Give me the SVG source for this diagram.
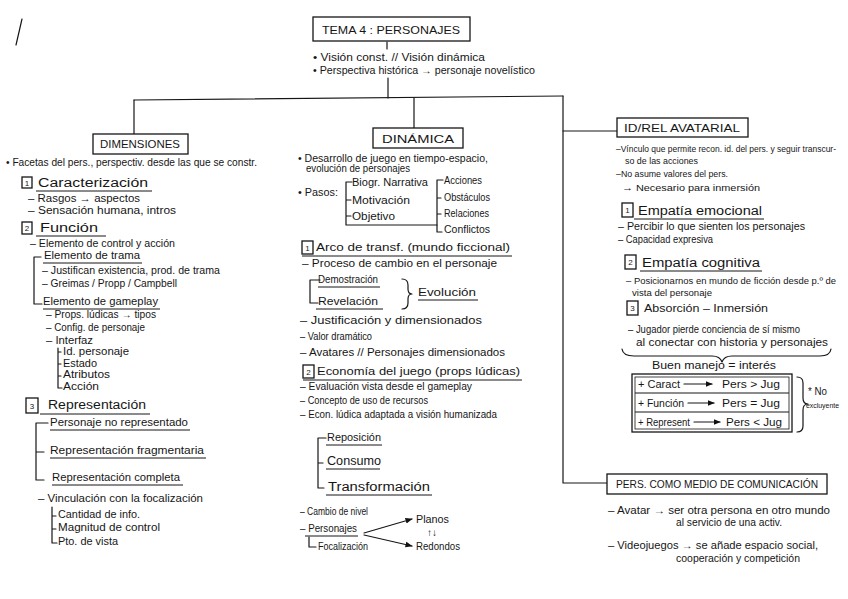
<svg xmlns="http://www.w3.org/2000/svg" width="848" height="599" viewBox="0 0 848 599">
<defs>
<marker id="ah" viewBox="0 0 10 10" refX="9" refY="5" markerWidth="6" markerHeight="6" orient="auto-start-reverse"><path d="M0,1 L10,5 L0,9 z" fill="#111"/></marker>
<style>
text{font-family:"Liberation Sans",Arial,sans-serif;fill:#161616}
.t{font-size:10px}
.s{font-size:9.5px}
.m{font-size:11px}
.h{font-size:12px}
.n{font-size:8px;text-anchor:middle}
.c{text-anchor:middle}
.ln{fill:none;stroke:#161616;stroke-width:1.2;stroke-linecap:round;stroke-linejoin:round}
.ul{fill:none;stroke:#161616;stroke-width:1}
.box{fill:#fff;stroke:#161616;stroke-width:1.3}
</style>
</defs>
<rect width="848" height="599" fill="#fff"/>
<line class="ln" x1="22" y1="19" x2="16" y2="45"/>

<g id="connectors">
<path class="ln" d="M387 42 V49"/>
<path class="ln" d="M388 78 V98"/>
<path class="ln" d="M134 100 L563 96"/>
<path class="ln" d="M134 100 V134"/>
<path class="ln" d="M414 98 V128"/>
<path class="ln" d="M563 96 V483 H607"/>
<path class="ln" d="M563 131 H617"/>
</g>

<g id="tema">
<rect class="box" x="313" y="17" width="157" height="24"/>
<text class="c" x="391" y="34" font-size="11.5" textLength="138" lengthAdjust="spacingAndGlyphs">TEMA 4 : PERSONAJES</text>
<text class="t" x="313" y="61" textLength="172" lengthAdjust="spacingAndGlyphs">• Visión const. // Visión dinámica</text>
<text class="t" x="313" y="74" textLength="222" lengthAdjust="spacingAndGlyphs">• Perspectiva histórica → personaje novelístico</text>
</g>

<g id="dimensiones">
<rect class="box" x="93" y="134" width="95" height="20"/>
<text class="c" x="140" y="148" font-size="11" textLength="80" lengthAdjust="spacingAndGlyphs">DIMENSIONES</text>
<text class="t" x="6" y="166" textLength="251" lengthAdjust="spacingAndGlyphs">• Facetas del pers., perspectiv. desde las que se constr.</text>
<rect class="box" x="22" y="177" width="10" height="11"/>
<text class="n" x="27" y="186">1</text>
<text class="h" x="38" y="187" textLength="110" lengthAdjust="spacingAndGlyphs">Caracterización</text>
<line class="ul" x1="36" y1="191" x2="152" y2="191"/>
<text class="m" x="28" y="202" textLength="112" lengthAdjust="spacingAndGlyphs">– Rasgos → aspectos</text>
<text class="t" x="28" y="214" textLength="148" lengthAdjust="spacingAndGlyphs">– Sensación humana, intros</text>
<rect class="box" x="22" y="222" width="10" height="12"/>
<text class="n" x="27" y="231">2</text>
<text class="h" x="40" y="232" textLength="58" lengthAdjust="spacingAndGlyphs">Función</text>
<line class="ul" x1="36" y1="236" x2="106" y2="236"/>
<text class="t" x="30" y="247" textLength="145" lengthAdjust="spacingAndGlyphs">– Elemento de control y acción</text>
<path class="ln" d="M41 257 H34 V304 H42"/>
<text class="m" x="44" y="259" textLength="96" lengthAdjust="spacingAndGlyphs">Elemento de trama</text>
<line class="ul" x1="43" y1="263" x2="142" y2="263"/>
<text class="t" x="42" y="274" textLength="178" lengthAdjust="spacingAndGlyphs">– Justifican existencia, prod. de trama</text>
<text class="t" x="42" y="287" textLength="135" lengthAdjust="spacingAndGlyphs">– Greimas / Propp / Campbell</text>
<text class="m" x="43" y="305" textLength="115" lengthAdjust="spacingAndGlyphs">Elemento de gameplay</text>
<line class="ul" x1="43" y1="309" x2="160" y2="309"/>
<text class="t" x="46" y="318" textLength="110" lengthAdjust="spacingAndGlyphs">– Props. lúdicas → tipos</text>
<text class="t" x="46" y="331" textLength="99" lengthAdjust="spacingAndGlyphs">– Config. de personaje</text>
<text class="t" x="46" y="344" textLength="47" lengthAdjust="spacingAndGlyphs">– Interfaz</text>
<path class="ln" d="M58 348 V388 H62 M58 352 H61 M58 364 H61 M58 376 H61"/>
<text class="m" x="63" y="355" textLength="66" lengthAdjust="spacingAndGlyphs">Id. personaje</text>
<text class="t" x="63" y="367" textLength="34" lengthAdjust="spacingAndGlyphs">Estado</text>
<text class="t" x="63" y="378" textLength="47" lengthAdjust="spacingAndGlyphs">Atributos</text>
<text class="t" x="63" y="390" textLength="36" lengthAdjust="spacingAndGlyphs">Acción</text>
<rect class="box" x="26" y="398" width="12" height="15"/>
<text class="n" x="32" y="409" font-size="9">3</text>
<text class="h" x="48" y="409" textLength="98" lengthAdjust="spacingAndGlyphs">Representación</text>
<line class="ul" x1="40" y1="414" x2="150" y2="414"/>
<path class="ln" d="M48 423 H36 V480 H44 M36 452 H44"/>
<text class="m" x="50" y="426" textLength="138" lengthAdjust="spacingAndGlyphs">Personaje no representado</text>
<line class="ul" x1="50" y1="430" x2="190" y2="430"/>
<text class="m" x="50" y="454" textLength="154" lengthAdjust="spacingAndGlyphs">Representación fragmentaria</text>
<line class="ul" x1="50" y1="458" x2="206" y2="458"/>
<text class="m" x="52" y="481" textLength="128" lengthAdjust="spacingAndGlyphs">Representación completa</text>
<line class="ul" x1="52" y1="485" x2="183" y2="485"/>
<text class="t" x="38" y="502" textLength="165" lengthAdjust="spacingAndGlyphs">– Vinculación con la focalización</text>
<path class="ln" d="M52 507 V543 H57 M52 516 H56 M52 529 H56"/>
<text class="t" x="58" y="518" textLength="82" lengthAdjust="spacingAndGlyphs">Cantidad de info.</text>
<text class="t" x="58" y="531" textLength="102" lengthAdjust="spacingAndGlyphs">Magnitud de control</text>
<text class="t" x="58" y="545" textLength="60" lengthAdjust="spacingAndGlyphs">Pto. de vista</text>
</g>

<g id="dinamica">
<rect class="box" x="373" y="128" width="90" height="20"/>
<text class="c" x="418" y="143" font-size="11" textLength="72" lengthAdjust="spacingAndGlyphs">DINÁMICA</text>
<text class="t" x="298" y="162" textLength="190" lengthAdjust="spacingAndGlyphs">• Desarrollo de juego en tiempo-espacio,</text>
<text class="t" x="306" y="172" textLength="104" lengthAdjust="spacingAndGlyphs">evolución de personajes</text>
<text class="t" x="298" y="196" textLength="40" lengthAdjust="spacingAndGlyphs">• Pasos:</text>
<path class="ln" d="M352 182 H346 V225 H437 M346 200 H351 M346 216 H351"/>
<text class="t" x="352" y="186" textLength="76" lengthAdjust="spacingAndGlyphs">Biogr. Narrativa</text>
<text class="t" x="352" y="204" textLength="58" lengthAdjust="spacingAndGlyphs">Motivación</text>
<text class="t" x="352" y="220" textLength="43" lengthAdjust="spacingAndGlyphs">Objetivo</text>
<path class="ln" d="M443 180 H437 V232 H442 M437 198 H441 M437 214 H441"/>
<text class="t" x="444" y="184" textLength="38" lengthAdjust="spacingAndGlyphs">Acciones</text>
<text class="t" x="444" y="201" textLength="46" lengthAdjust="spacingAndGlyphs">Obstáculos</text>
<text class="t" x="444" y="217" textLength="45" lengthAdjust="spacingAndGlyphs">Relaciones</text>
<text class="t" x="444" y="233" textLength="46" lengthAdjust="spacingAndGlyphs">Conflictos</text>
<rect class="box" x="302" y="241" width="11" height="13"/>
<text class="n" x="307.5" y="251">1</text>
<text class="m" x="316" y="251" textLength="194" lengthAdjust="spacingAndGlyphs">Arco de transf. (mundo ficcional)</text>
<line class="ul" x1="302" y1="256" x2="512" y2="256"/>
<text class="t" x="302" y="267" textLength="195" lengthAdjust="spacingAndGlyphs">– Proceso de cambio en el personaje</text>
<path class="ln" d="M320 280 H310 V303 H318"/>
<text class="t" x="318" y="283" textLength="60" lengthAdjust="spacingAndGlyphs">Demostración</text>
<line class="ul" x1="318" y1="287" x2="380" y2="287"/>
<text class="t" x="318" y="305" textLength="60" lengthAdjust="spacingAndGlyphs">Revelación</text>
<line class="ul" x1="316" y1="309" x2="383" y2="309"/>
<path class="ln" d="M402 279 Q408 279 408 285 V289 Q408 294 412 294 Q408 294 408 299 V303 Q408 309 402 309"/>
<text class="m" x="418" y="296" textLength="58" lengthAdjust="spacingAndGlyphs">Evolución</text>
<line class="ul" x1="418" y1="300" x2="478" y2="300"/>
<text class="t" x="300" y="324" textLength="182" lengthAdjust="spacingAndGlyphs">– Justificación y dimensionados</text>
<text class="t" x="300" y="340" textLength="72" lengthAdjust="spacingAndGlyphs">– Valor dramático</text>
<text class="t" x="300" y="356" textLength="205" lengthAdjust="spacingAndGlyphs">– Avatares // Personajes dimensionados</text>
<rect class="box" x="303" y="365" width="11" height="13"/>
<text class="n" x="308.5" y="375">2</text>
<text class="m" x="317" y="375" textLength="203" lengthAdjust="spacingAndGlyphs">Economía del juego (props lúdicas)</text>
<line class="ul" x1="303" y1="380" x2="522" y2="380"/>
<text class="t" x="300" y="390" textLength="172" lengthAdjust="spacingAndGlyphs">– Evaluación vista desde el gameplay</text>
<text class="t" x="300" y="404" textLength="128" lengthAdjust="spacingAndGlyphs">– Concepto de uso de recursos</text>
<text class="t" x="300" y="418" textLength="197" lengthAdjust="spacingAndGlyphs">– Econ. lúdica adaptada a visión humanizada</text>
<path class="ln" d="M326 438 H318 V488 H324 M318 463 H323"/>
<text class="m" x="327" y="441" textLength="54" lengthAdjust="spacingAndGlyphs">Reposición</text>
<line class="ul" x1="326" y1="445" x2="382" y2="445"/>
<text class="h" x="327" y="465" textLength="54" lengthAdjust="spacingAndGlyphs">Consumo</text>
<line class="ul" x1="326" y1="469" x2="380" y2="469"/>
<text class="h" x="328" y="491" textLength="102" lengthAdjust="spacingAndGlyphs">Transformación</text>
<line class="ul" x1="326" y1="495" x2="432" y2="495"/>
<text class="t" x="300" y="515" textLength="68" lengthAdjust="spacingAndGlyphs">– Cambio de nivel</text>
<text class="m" x="300" y="532" textLength="57" lengthAdjust="spacingAndGlyphs">– Personajes</text>
<line class="ul" x1="305" y1="536" x2="358" y2="536"/>
<path class="ln" d="M309 537 V547 H316"/>
<text class="t" x="318" y="550" textLength="50" lengthAdjust="spacingAndGlyphs">Focalización</text>
<path class="ln" d="M364 533 L412 519" marker-end="url(#ah)"/>
<path class="ln" d="M364 535 L412 546" marker-end="url(#ah)"/>
<text class="m" x="416" y="523" textLength="33" lengthAdjust="spacingAndGlyphs">Planos</text>
<text class="t" x="427" y="536">↑↓</text>
<text class="m" x="416" y="550" textLength="44" lengthAdjust="spacingAndGlyphs">Redondos</text>
</g>

<g id="id-rel-avatarial">
<rect class="box" x="617" y="118" width="131" height="19"/>
<text class="c" x="682" y="132" font-size="11" textLength="116" lengthAdjust="spacingAndGlyphs">ID/REL AVATARIAL</text>
<text x="616" y="152" font-size="8.2" textLength="220" lengthAdjust="spacingAndGlyphs">–Vínculo que permite recon. id. del pers. y seguir transcur-</text>
<text class="s" x="625" y="164" textLength="73" lengthAdjust="spacingAndGlyphs">so de las acciones</text>
<text class="s" x="616" y="177" textLength="112" lengthAdjust="spacingAndGlyphs">–No asume valores del pers.</text>
<text class="s" x="622" y="191" textLength="138" lengthAdjust="spacingAndGlyphs">→ Necesario para inmersión</text>
<rect class="box" x="622" y="203" width="11" height="14"/>
<text class="n" x="627.5" y="213">1</text>
<text class="h" x="638" y="215" textLength="124" lengthAdjust="spacingAndGlyphs">Empatía emocional</text>
<line class="ul" x1="634" y1="219" x2="764" y2="219"/>
<text class="t" x="618" y="230" textLength="187" lengthAdjust="spacingAndGlyphs">– Percibir lo que sienten los personajes</text>
<text class="t" x="618" y="243" textLength="95" lengthAdjust="spacingAndGlyphs">– Capacidad expresiva</text>
<rect class="box" x="625" y="255" width="11" height="14"/>
<text class="n" x="630.5" y="265">2</text>
<text class="h" x="642" y="267" textLength="118" lengthAdjust="spacingAndGlyphs">Empatía cognitiva</text>
<line class="ul" x1="640" y1="271" x2="762" y2="271"/>
<text x="626" y="284" font-size="8.8" textLength="210" lengthAdjust="spacingAndGlyphs">– Posicionarnos en mundo de ficción desde p.º de</text>
<text class="s" x="632" y="296" textLength="80" lengthAdjust="spacingAndGlyphs">vista del personaje</text>
<rect class="box" x="627" y="301" width="11" height="14"/>
<text class="n" x="632.5" y="311">3</text>
<text class="m" x="644" y="312" textLength="124" lengthAdjust="spacingAndGlyphs">Absorción – Inmersión</text>
<text class="t" x="628" y="333" textLength="172" lengthAdjust="spacingAndGlyphs">– Jugador pierde conciencia de sí mismo</text>
<text class="t" x="636" y="346" textLength="192" lengthAdjust="spacingAndGlyphs">al conectar con historia y personajes</text>
<path class="ln" d="M622 349 Q623 356 634 356 H712 Q720 356 722 362 Q724 356 732 356 H820 Q830 356 831 349"/>
<text class="m" x="652" y="369" textLength="124" lengthAdjust="spacingAndGlyphs">Buen manejo = interés</text>
<rect class="box" x="632" y="374" width="160" height="58"/>
<rect x="635" y="377" width="154" height="52" fill="none" stroke="#161616" stroke-width="0.8"/>
<line class="ul" x1="635" y1="393" x2="789" y2="393"/>
<line class="ul" x1="635" y1="412" x2="789" y2="412"/>
<text class="t" x="638" y="388" textLength="42" lengthAdjust="spacingAndGlyphs">+ Caract</text>
<text class="t" x="638" y="407" textLength="46" lengthAdjust="spacingAndGlyphs">+ Función</text>
<text class="t" x="638" y="426" textLength="52" lengthAdjust="spacingAndGlyphs">+ Represent</text>
<path class="ln" d="M684 384 H712" marker-end="url(#ah)"/>
<path class="ln" d="M688 403 H714" marker-end="url(#ah)"/>
<path class="ln" d="M694 422 H720" marker-end="url(#ah)"/>
<text class="m" x="722" y="388" textLength="58" lengthAdjust="spacingAndGlyphs">Pers &gt; Jug</text>
<text class="m" x="722" y="407" textLength="58" lengthAdjust="spacingAndGlyphs">Pers = Jug</text>
<text class="m" x="726" y="426" textLength="56" lengthAdjust="spacingAndGlyphs">Pers &lt; Jug</text>
<path class="ln" d="M797 377 Q803 377 803 383 V398 Q803 404 808 404 Q803 404 803 410 V426 Q803 432 797 432"/>
<text class="t" x="808" y="395" textLength="19" lengthAdjust="spacingAndGlyphs">* No</text>
<text x="806" y="408" font-size="7.5" textLength="33" lengthAdjust="spacingAndGlyphs">excluyente</text>
</g>

<g id="pers-comunicacion">
<rect class="box" x="607" y="474" width="220" height="20"/>
<text class="c" x="717" y="488" font-size="10.5" textLength="202" lengthAdjust="spacingAndGlyphs">PERS. COMO MEDIO DE COMUNICACIÓN</text>
<text class="t" x="608" y="514" textLength="222" lengthAdjust="spacingAndGlyphs">– Avatar → ser otra persona en otro mundo</text>
<text class="t" x="676" y="526" textLength="106" lengthAdjust="spacingAndGlyphs">al servicio de una activ.</text>
<text class="t" x="608" y="549" textLength="210" lengthAdjust="spacingAndGlyphs">– Videojuegos → se añade espacio social,</text>
<text class="t" x="676" y="562" textLength="124" lengthAdjust="spacingAndGlyphs">cooperación y competición</text>
</g>
</svg>
